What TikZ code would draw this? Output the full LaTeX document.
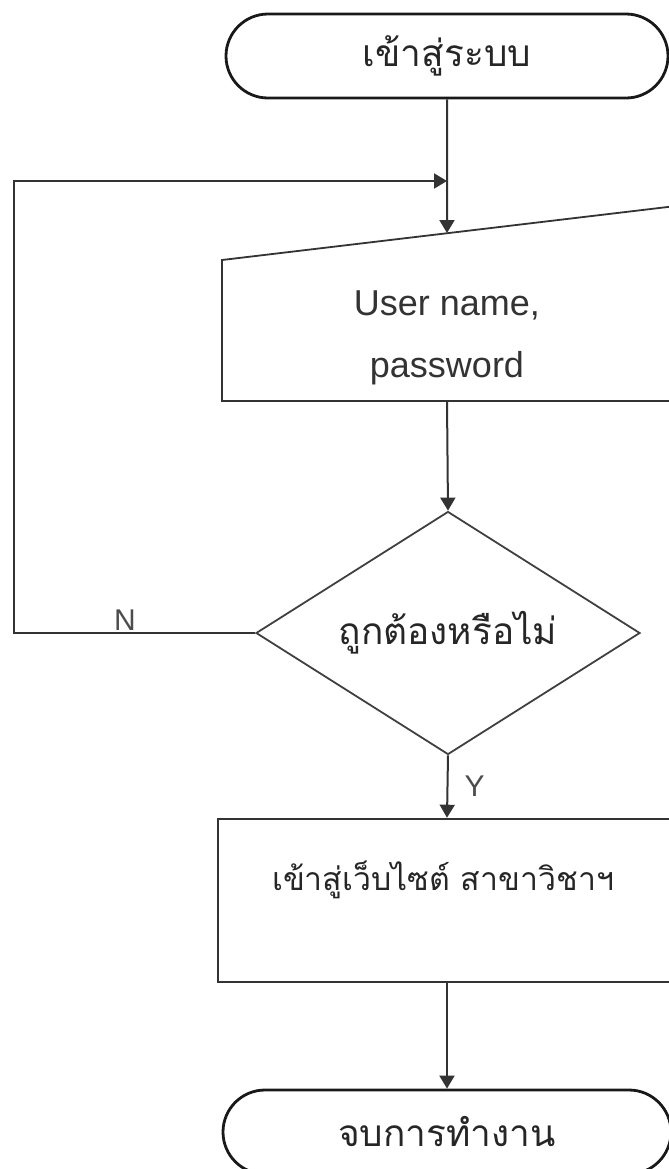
\documentclass[tikz,border=0pt]{standalone}
\usepackage{fontspec}
\setmainfont{Liberation Sans}
\newfontfamily\thaifont[Script=Thai]{Loma}
\usetikzlibrary{arrows.meta, positioning, shapes.geometric, shapes.misc}
\tikzset{
    thai text/.style = {
      font=\thaifont\fontsize{18.5pt}{22pt}\selectfont, text=black!85!white,
    },
    latin text/.style = {
      font=\fontsize{18pt}{31pt}\selectfont, text=black!80!white, align=center,
    },
    terminal/.style = {
      rounded rectangle, thai text, draw=black!90!white, line width=1.4pt,
      minimum height=42pt, inner sep=0,
    },
    box/.style = {
      draw=black!80!white, line width=1.3pt,
    },
    input box/.style = {
      draw=black!80!white, line width=0.9pt,
    },
    decision/.style = {
      diamond, aspect=1.6, thai text, draw=black!75!white, line width=0.9pt, inner sep=0,
      minimum width=192pt, minimum height=121.5pt,
    },
    branch label/.style = {
      font=\fontsize{15pt}{18pt}\selectfont, text=black!70!white, inner sep=0,
    },
    link/.style = {
      line width=1pt, black!80!white, arrows={-Triangle[width=7.5pt, length=6.5pt]},
    },
}

\begin{document}
\begin{tikzpicture}[x=0.5pt, y=-0.5pt]
    %% Keep the frame of the scanned chart, shapes run off its right edge
    \useasboundingbox (0,0) rectangle (669,1169);
    \clip (0,0) rectangle (669,1169);

    %% The steps, top to bottom
    \node [terminal, minimum width=221pt] (start) at (447,56) {เข้าสู่ระบบ};

    %% Manual input has a slanted top, so draw it by hand
    \draw [input box] (222,260) -- (676,206) -- (676,401) -- (222,401) -- cycle;
    \coordinate (input_top) at (447,233);
    \coordinate (input_bottom) at (447,401);
    \node [latin text] (input) at (447,338) {User name,\\password};

    \node [decision] (check) at (448,633) {ถูกต้องหรือไม่};

    \node [box, minimum width=229pt, minimum height=81.5pt] (site) at (447,900.5) {};
    \node [thai text, font=\thaifont\fontsize{16pt}{20pt}\selectfont]
          (site_label) at (443,880) {เข้าสู่เว็บไซต์ สาขาวิชาฯ};

    \node [terminal, minimum width=224pt] (finish) at (447,1132) {จบการทำงาน};

    %% Connectors
    \coordinate (merge) at (447,181);
    \draw [link] (start) -- (input_top);
    \draw [link] (input_bottom) -- (check.north);
    \draw [link] (check.south) -- (site.north)
      node [midway, right=8pt, branch label] (yes_label) {Y};
    \draw [link] (site.south) -- (finish.north);

    %% The "no" branch loops back above the input
    \draw [link] (check.west) -| (14,181) -- (merge);
    \node [branch label] (no_label) at (125,620) {N};
\end{tikzpicture}
\end{document}
